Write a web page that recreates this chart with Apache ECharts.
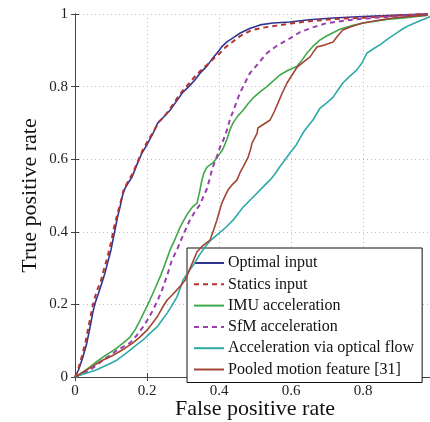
<!DOCTYPE html>
<html><head><meta charset="utf-8">
<script src="https://cdn.jsdelivr.net/npm/echarts@6/dist/echarts.min.js"></script>
<style>html,body{margin:0;padding:0;background:#fff}#c{width:430px;height:422px}</style>
</head><body><div id="c"></div>
<script>
const seriesNames = ["Optimal input","Statics input","IMU acceleration","SfM acceleration","Acceleration via optical flow","Pooled motion feature [31]"];
const xTicks = [0,0.2,0.4,0.6,0.8,1];
const yTicks = [0,0.2,0.4,0.6,0.8,1];

const optimal = [[0,0],[0.01,0.02],[0.022,0.055],[0.032,0.09],[0.042,0.138],[0.05,0.18],[0.056,0.204],[0.065,0.23],[0.075,0.26],[0.083,0.286],[0.092,0.32],[0.1,0.35],[0.111,0.405],[0.118,0.44],[0.125,0.468],[0.132,0.5],[0.139,0.52],[0.148,0.535],[0.158,0.55],[0.172,0.585],[0.186,0.617],[0.2,0.64],[0.217,0.672],[0.23,0.70],[0.245,0.715],[0.264,0.735],[0.282,0.76],[0.30,0.785],[0.316,0.80],[0.333,0.818],[0.35,0.84],[0.367,0.857],[0.38,0.875],[0.394,0.892],[0.408,0.91],[0.422,0.923],[0.44,0.935],[0.458,0.947],[0.485,0.96],[0.514,0.97],[0.55,0.975],[0.597,0.978],[0.65,0.984],[0.717,0.989],[0.8,0.993],[0.9,0.997],[0.98,1]];
const statics = [[0,0],[0.01,0.025],[0.02,0.06],[0.03,0.1],[0.04,0.15],[0.05,0.2],[0.06,0.235],[0.072,0.265],[0.08,0.295],[0.09,0.33],[0.1,0.37],[0.108,0.41],[0.118,0.45],[0.125,0.475],[0.135,0.515],[0.148,0.54],[0.16,0.56],[0.175,0.595],[0.188,0.625],[0.205,0.655],[0.22,0.68],[0.235,0.705],[0.25,0.72],[0.268,0.745],[0.285,0.77],[0.30,0.79],[0.318,0.81],[0.335,0.83],[0.35,0.845],[0.367,0.86],[0.383,0.875],[0.4,0.89],[0.42,0.91],[0.44,0.925],[0.46,0.94],[0.49,0.955],[0.52,0.962],[0.56,0.968],[0.6,0.974],[0.65,0.98],[0.72,0.986],[0.8,0.99],[0.9,0.996],[0.98,1]];
const imu = [[0,0],[0.02,0.012],[0.042,0.028],[0.06,0.042],[0.078,0.055],[0.098,0.068],[0.117,0.08],[0.135,0.095],[0.153,0.11],[0.168,0.132],[0.181,0.157],[0.195,0.185],[0.208,0.212],[0.222,0.243],[0.236,0.275],[0.244,0.295],[0.254,0.322],[0.264,0.35],[0.278,0.38],[0.292,0.413],[0.304,0.435],[0.314,0.452],[0.326,0.468],[0.339,0.479],[0.347,0.515],[0.352,0.54],[0.358,0.562],[0.367,0.579],[0.383,0.59],[0.395,0.605],[0.411,0.628],[0.422,0.655],[0.43,0.68],[0.439,0.70],[0.453,0.72],[0.467,0.735],[0.48,0.752],[0.494,0.768],[0.513,0.785],[0.533,0.80],[0.55,0.815],[0.569,0.832],[0.592,0.845],[0.617,0.856],[0.632,0.875],[0.644,0.892],[0.66,0.91],[0.68,0.928],[0.7,0.94],[0.736,0.958],[0.77,0.968],[0.8,0.975],[0.867,0.985],[0.92,0.99],[0.98,0.997]];
const sfm = [[0,0],[0.02,0.01],[0.042,0.02],[0.06,0.032],[0.078,0.047],[0.098,0.06],[0.117,0.074],[0.135,0.084],[0.153,0.094],[0.172,0.115],[0.189,0.138],[0.203,0.16],[0.217,0.185],[0.23,0.212],[0.242,0.24],[0.258,0.286],[0.269,0.322],[0.283,0.35],[0.3,0.39],[0.319,0.432],[0.333,0.455],[0.347,0.475],[0.358,0.5],[0.367,0.52],[0.375,0.55],[0.383,0.579],[0.395,0.61],[0.403,0.634],[0.413,0.655],[0.422,0.68],[0.43,0.708],[0.444,0.745],[0.458,0.782],[0.472,0.81],[0.486,0.837],[0.51,0.865],[0.533,0.892],[0.56,0.912],[0.589,0.928],[0.625,0.95],[0.66,0.963],[0.70,0.975],[0.75,0.982],[0.8,0.987],[0.88,0.993],[0.98,1]];
const optflow = [[0,0],[0.02,0.007],[0.042,0.014],[0.06,0.02],[0.078,0.028],[0.098,0.037],[0.117,0.047],[0.135,0.06],[0.153,0.074],[0.17,0.088],[0.189,0.102],[0.208,0.12],[0.228,0.138],[0.242,0.157],[0.256,0.176],[0.27,0.198],[0.283,0.22],[0.292,0.243],[0.30,0.267],[0.315,0.29],[0.33,0.31],[0.345,0.335],[0.361,0.358],[0.375,0.375],[0.393,0.39],[0.411,0.405],[0.425,0.418],[0.439,0.432],[0.453,0.45],[0.467,0.468],[0.486,0.487],[0.506,0.507],[0.524,0.525],[0.542,0.543],[0.556,0.56],[0.569,0.579],[0.583,0.598],[0.597,0.617],[0.615,0.64],[0.625,0.658],[0.635,0.675],[0.648,0.692],[0.661,0.708],[0.681,0.741],[0.7,0.756],[0.717,0.771],[0.73,0.79],[0.744,0.81],[0.763,0.828],[0.783,0.846],[0.797,0.865],[0.811,0.892],[0.83,0.905],[0.847,0.915],[0.87,0.932],[0.894,0.948],[0.912,0.96],[0.931,0.97],[0.955,0.98],[0.978,0.989],[1,1]];
const pooled = [[0,0],[0.02,0.012],[0.042,0.025],[0.06,0.036],[0.078,0.047],[0.098,0.056],[0.117,0.066],[0.14,0.08],[0.161,0.094],[0.18,0.11],[0.2,0.129],[0.214,0.147],[0.228,0.165],[0.242,0.19],[0.256,0.212],[0.27,0.226],[0.283,0.24],[0.295,0.253],[0.306,0.267],[0.32,0.3],[0.339,0.345],[0.355,0.362],[0.375,0.377],[0.385,0.405],[0.394,0.432],[0.401,0.456],[0.408,0.479],[0.416,0.497],[0.425,0.515],[0.437,0.53],[0.45,0.543],[0.458,0.562],[0.467,0.579],[0.481,0.606],[0.487,0.625],[0.492,0.645],[0.5,0.66],[0.506,0.672],[0.508,0.686],[0.525,0.697],[0.542,0.708],[0.553,0.73],[0.564,0.755],[0.576,0.783],[0.589,0.81],[0.603,0.832],[0.617,0.854],[0.635,0.868],[0.653,0.882],[0.662,0.895],[0.672,0.909],[0.695,0.915],[0.717,0.923],[0.73,0.94],[0.744,0.956],[0.77,0.966],[0.8,0.975],[0.84,0.982],[0.883,0.989],[0.93,0.993],[0.98,0.997]];

const seriesData = [optimal, statics, imu, sfm, optflow, pooled];
const colors = ['#303590','#b5312e','#3fa84a','#9b3fae','#2fa9a6','#a24535'];
const dashed = [false,true,false,true,false,false];

const font = 'Liberation Serif, Times New Roman, serif';
const chart = echarts.init(document.getElementById('c'), null, {renderer:'canvas'});

function axisBase(extra){
  return Object.assign({
    type:'value', min:xTicks[0], max:xTicks[xTicks.length-1], interval:0.2,
    axisLine:{show:true, lineStyle:{color:'#444', width:1}},
    axisTick:{show:true, inside:true, length:4, lineStyle:{color:'#444'}},
    axisLabel:{color:'#222', fontFamily:font, fontSize:15, margin:7},
    splitLine:{show:true, lineStyle:{color:'#bbb', type:[1,3], width:1}}
  }, extra);
}

chart.setOption({
  animation:false,
  backgroundColor:'#fff',
  grid:{left:75, top:14, bottom:45, right:-5, containLabel:false, outerBoundsMode:'none'},
  xAxis:[
    axisBase({position:'bottom', name:'False positive rate', nameLocation:'middle', nameGap:21, nameMoveOverlap:false,
      nameTextStyle:{fontFamily:font, fontSize:22, color:'#111'}}),
    axisBase({position:'top', axisLabel:{show:false}, splitLine:{show:false}})
  ],
  yAxis:[
    axisBase({position:'left', min:yTicks[0], max:yTicks[yTicks.length-1], name:'True positive rate', nameLocation:'middle', nameGap:34, nameMoveOverlap:false,
      nameTextStyle:{fontFamily:font, fontSize:22, color:'#111'}}),
    axisBase({position:'right', min:yTicks[0], max:yTicks[yTicks.length-1], axisLabel:{show:false}, splitLine:{show:false}})
  ],
  legend:{
    orient:'vertical', left:187, top:248, width:240,
    backgroundColor:'#fff', borderColor:'#111', borderWidth:1,
    padding:[7,8,5,6], itemGap:5.3, itemWidth:30, itemHeight:14,
    itemStyle:{opacity:0},
    textStyle:{fontFamily:font, fontSize:16, color:'#111', padding:[0,0,0,-1]},
    data:seriesNames.map(n=>({name:n}))
  },
  series: seriesNames.map((n,i)=>({
    name:n, type:'line', showSymbol:false, symbol:'none',
    data:seriesData[i], xAxisIndex:0, yAxisIndex:0,
    lineStyle:{color:colors[i], width:dashed[i]?2:1.6, type:dashed[i]?[5,4]:'solid'},
    itemStyle:{color:colors[i]},
    clip:false, z:2+i
  }))
});
</script></body></html>
